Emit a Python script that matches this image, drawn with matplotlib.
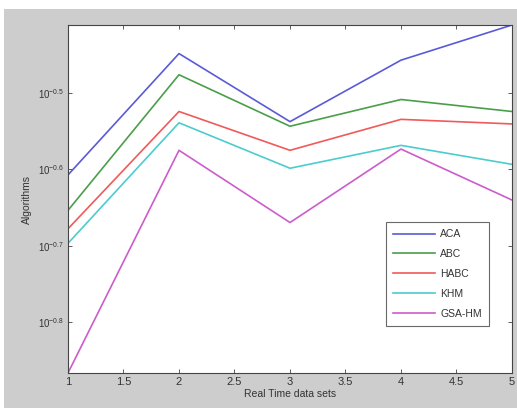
import matplotlib
matplotlib.use("Agg")
import matplotlib.pyplot as plt
import matplotlib.patches as mpatches
import numpy as np

plt.rcParams.update({
    "font.family": ["Liberation Sans", "DejaVu Sans"],
    "mathtext.fontset": "custom",
    "mathtext.rm": "Liberation Sans",
    "mathtext.it": "Liberation Sans",
    "xtick.direction": "in",
    "ytick.direction": "in",
})

# data
datasets = [1, 2, 3, 4, 5]
aca = [0.247, 0.356, 0.290, 0.349, 0.388]
abc = [0.222, 0.334, 0.286, 0.310, 0.299]
habc = [0.210, 0.299, 0.266, 0.292, 0.288]
khm = [0.201, 0.289, 0.252, 0.270, 0.255]
gsa_hm = [0.136, 0.266, 0.214, 0.267, 0.229]

series = [("ACA", aca, "#5a5ad8"),
          ("ABC", abc, "#4a9e4a"),
          ("HABC", habc, "#f05a5a"),
          ("KHM", khm, "#4ccccc"),
          ("GSA-HM", gsa_hm, "#cc5ccc")]

ytick_exp = [-0.8, -0.7, -0.6, -0.5]
xticks = [1, 1.5, 2, 2.5, 3, 3.5, 4, 4.5, 5]
xtick_labels = ["1", "1.5", "2", "2.5", "3", "3.5", "4", "4.5", "5"]

fig = plt.figure(figsize=(5.17, 4.08), dpi=100, facecolor="white")
# grey matlab-style figure background
fig.patches.append(mpatches.Rectangle((4 / 517, 0), 1, 1 - 9 / 408,
                                      transform=fig.transFigure,
                                      facecolor="#cdcdcd", edgecolor="none",
                                      zorder=-10))

ax = fig.add_axes([68 / 517, 1 - 373 / 408, (512 - 68) / 517, (373 - 25) / 408])
ax.set_facecolor("white")

for name, vals, col in series:
    ax.plot(datasets, vals, color=col, linewidth=1.2, label=name)

ax.set_yscale("log")
allv = aca + abc + habc + khm + gsa_hm
ax.set_ylim(min(allv), max(allv))
ax.set_xlim(1, 5)
ax.set_yticks([10 ** e for e in ytick_exp])
ax.set_yticklabels([r"$10^{%s}$" % e for e in ytick_exp], fontsize=7, color="#333333")
ax.yaxis.set_minor_locator(matplotlib.ticker.NullLocator())
ax.set_xticks(xticks)
ax.set_xticklabels(xtick_labels, fontsize=8, color="#333333")
ax.tick_params(top=True, right=True, length=3, width=0.6, color="#444444", pad=3)

for s in ax.spines.values():
    s.set_linewidth(0.8)
    s.set_color("#444444")

ax.set_xlabel("Real Time data sets", fontsize=7.5, color="#333333", labelpad=1)
ax.set_ylabel("Algorithms", fontsize=7.5, color="#333333", labelpad=4)

leg = ax.legend(loc="lower right", bbox_to_anchor=(0.96, 0.12), fontsize=7.5,
                frameon=True, fancybox=False, edgecolor="#444444",
                handlelength=4, handletextpad=0.5, labelspacing=0.95,
                borderpad=0.7)
leg.get_frame().set_linewidth(0.8)
for t in leg.get_texts():
    t.set_color("#333333")

fig.savefig("out.png", dpi=100)
